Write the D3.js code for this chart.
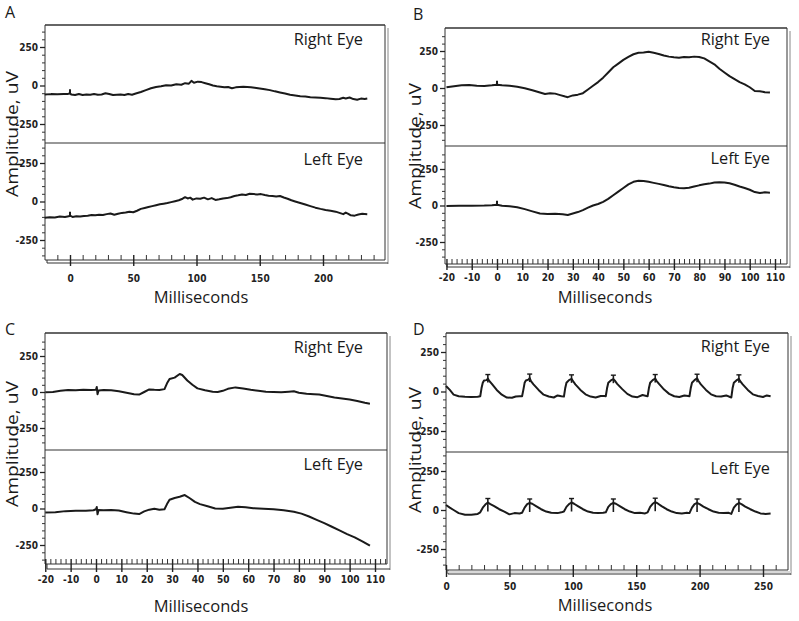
<!DOCTYPE html>
<html><head><meta charset="utf-8">
<script src="https://cdn.jsdelivr.net/npm/d3@7"></script>
<style>body{margin:0;background:#fff}svg{display:block}</style></head>
<body><svg id="c" width="799" height="621"></svg>
<script>
// ---------- DATA (time ms, amplitude uV) ----------
const aRight = [[-20,-58],[-15,-56],[-10,-57],[-5,-55],[-2,-56],[0,-50],[1,-58],[4,-62],[7,-55],[10,-62],[13,-58],[16,-60],[19,-55],[22,-60],[25,-58],[28,-50],[31,-55],[34,-62],[37,-60],[40,-58],[43,-62],[46,-55],[49,-60],[52,-52],[56,-42],[60,-30],[64,-18],[68,-10],[72,-5],[76,2],[80,0],[84,8],[88,5],[91,15],[94,12],[96,30],[98,18],[101,25],[104,22],[107,15],[110,8],[113,0],[116,-5],[119,-8],[122,-12],[125,-10],[128,-18],[131,-12],[134,-10],[137,-8],[140,-10],[143,-12],[146,-15],[150,-20],[154,-25],[158,-30],[162,-38],[166,-45],[170,-52],[174,-60],[178,-65],[182,-70],[186,-72],[190,-76],[194,-78],[198,-80],[202,-82],[206,-86],[210,-90],[213,-88],[216,-80],[218,-84],[221,-78],[224,-88],[227,-92],[230,-85],[233,-88],[235,-85]];
const aLeft = [[-20,-105],[-16,-102],[-12,-104],[-8,-98],[-4,-100],[-1,-96],[0,-92],[2,-100],[5,-96],[8,-98],[11,-94],[14,-92],[17,-88],[20,-90],[23,-86],[26,-88],[29,-82],[32,-78],[35,-86],[38,-80],[41,-74],[44,-72],[47,-66],[50,-70],[53,-60],[56,-48],[59,-42],[62,-36],[65,-30],[68,-24],[71,-18],[74,-14],[77,-10],[80,-4],[83,2],[86,8],[89,18],[91,28],[93,20],[95,25],[97,12],[100,20],[103,18],[106,25],[109,14],[112,22],[115,10],[118,14],[121,20],[124,22],[127,28],[130,36],[133,40],[136,46],[139,42],[142,50],[145,48],[148,46],[151,48],[154,42],[157,38],[160,36],[163,32],[166,36],[169,26],[172,18],[175,8],[178,0],[182,-10],[186,-20],[190,-30],[194,-40],[198,-48],[202,-55],[206,-60],[210,-66],[213,-74],[216,-82],[218,-72],[220,-80],[222,-90],[225,-92],[228,-84],[231,-80],[235,-82]];
const bRight = [[-20,5],[-17,12],[-14,18],[-11,20],[-8,16],[-5,14],[-2,18],[0,22],[2,18],[5,15],[8,8],[11,-2],[14,-15],[17,-30],[19,-40],[21,-35],[23,-38],[25,-48],[27,-58],[28,-62],[30,-50],[32,-45],[34,-35],[36,-10],[38,15],[40,40],[42,70],[44,105],[46,140],[48,165],[50,190],[52,210],[54,228],[56,238],[58,240],[60,245],[62,238],[64,230],[66,220],[68,212],[70,208],[72,205],[74,210],[76,208],[78,212],[80,210],[82,200],[84,180],[86,160],[88,130],[90,105],[92,80],[94,60],[96,40],[98,25],[100,5],[102,-20],[104,-22],[106,-28],[108,-30]];
const bLeft = [[-20,-3],[-15,-2],[-10,-1],[-5,0],[-2,2],[0,5],[2,-2],[5,-5],[8,-12],[11,-25],[14,-40],[17,-55],[20,-58],[23,-56],[26,-60],[28,-65],[30,-55],[32,-45],[34,-32],[36,-15],[38,0],[40,10],[42,25],[44,45],[46,70],[48,95],[50,120],[52,145],[54,162],[56,170],[58,168],[60,162],[62,155],[64,148],[66,140],[68,132],[70,125],[72,120],[74,118],[76,122],[78,130],[80,138],[82,145],[84,150],[86,158],[88,160],[90,158],[92,152],[94,142],[96,130],[98,120],[100,108],[102,92],[104,85],[106,90],[108,88]];
const cRight = [[-20,-2],[-17,0],[-14,8],[-11,14],[-8,12],[-5,15],[-2,14],[0,15],[0.3,35],[0.6,-15],[1,10],[3,14],[6,12],[9,5],[12,-5],[15,-15],[17,-18],[19,0],[21,18],[23,15],[25,14],[27,20],[28,60],[29,90],[31,100],[33,125],[34,118],[36,80],[38,50],[40,25],[43,12],[46,2],[48,0],[50,8],[52,22],[55,32],[58,25],[61,15],[64,8],[67,2],[70,0],[73,-2],[76,2],[78,5],[80,-5],[83,-12],[86,-15],[88,-18],[91,-28],[94,-38],[97,-45],[100,-52],[103,-62],[106,-75],[108,-82]];
const cLeft = [[-20,-28],[-16,-25],[-12,-18],[-8,-15],[-4,-16],[-1,-12],[0,-5],[0.3,10],[0.6,-40],[1,-10],[3,-12],[6,-10],[9,-14],[12,-25],[15,-35],[17,-38],[19,-20],[21,-8],[23,-2],[25,-8],[27,-5],[28,30],[29,60],[31,72],[33,80],[35,92],[37,70],[39,45],[41,30],[44,15],[47,0],[50,-2],[53,5],[56,12],[59,8],[62,2],[66,-2],[70,-5],[74,-12],[78,-22],[81,-35],[84,-55],[87,-78],[90,-100],[93,-125],[96,-150],[99,-175],[102,-198],[105,-225],[108,-255]];
const dRight = [[0,35],[3,10],[6,-20],[10,-30],[15,-33],[20,-35],[25,-33],[27,-30],[28,20],[29,55],[30,70],[32,72],[33,82],[34,68],[36,50],[40,10],[44,-20],[48,-38],[52,-40],[55,-32],[58,-30],[60,-30],[61,10],[62,55],[63,70],[65,75],[66,85],[67,65],[69,45],[73,10],[77,-20],[81,-32],[85,-38],[88,-25],[91,-30],[93,-32],[94,20],[95,55],[97,72],[99,80],[100,68],[102,45],[106,10],[110,-18],[114,-32],[118,-38],[122,-28],[125,-28],[126,-30],[127,20],[128,55],[130,70],[132,78],[133,70],[135,48],[139,15],[143,-15],[147,-32],[151,-36],[155,-22],[158,-28],[159,-30],[160,20],[161,55],[163,72],[165,82],[166,68],[168,48],[172,12],[176,-15],[180,-30],[184,-35],[188,-25],[191,-28],[192,-30],[193,20],[194,55],[196,72],[198,84],[199,68],[201,45],[205,10],[209,-18],[213,-30],[217,-32],[221,-25],[224,-35],[225,-38],[226,20],[227,55],[229,70],[231,80],[232,65],[234,45],[238,10],[242,-18],[246,-28],[250,-35],[253,-25],[256,-30]];
const dLeft = [[0,32],[3,15],[6,0],[10,-20],[15,-30],[20,-30],[25,-25],[27,-15],[29,15],[31,35],[33,48],[35,38],[38,25],[42,5],[46,-10],[50,-28],[54,-20],[58,-22],[60,-18],[62,15],[64,38],[66,45],[68,40],[71,25],[75,5],[79,-10],[83,-18],[88,-20],[91,-15],[93,-10],[95,20],[97,38],[99,48],[101,40],[104,25],[108,5],[112,-10],[116,-18],[120,-20],[124,-18],[126,-15],[128,20],[130,38],[132,45],[134,40],[137,25],[141,5],[145,-10],[149,-20],[153,-18],[157,-22],[159,-15],[161,20],[163,40],[165,50],[167,42],[170,25],[174,5],[178,-10],[182,-20],[186,-22],[190,-18],[192,-20],[194,15],[196,38],[198,45],[200,38],[203,22],[207,5],[211,-10],[215,-18],[219,-20],[223,-18],[225,-25],[227,15],[229,35],[231,45],[233,38],[236,22],[240,5],[244,-10],[248,-22],[252,-25],[256,-22]];
const stimA = [0];
const stimB = [0];
const stimC = [];
const stimD = [33, 66, 99, 132, 165, 198, 231];
const yMajorTicks = [-250, 0, 250];
const xTicksWide = [0, 50, 100, 150, 200, 250];
const xTicksNarrow = [-20, -10, 0, 10, 20, 30, 40, 50, 60, 70, 80, 90, 100, 110];
const eyeLabels = ["Right Eye", "Left Eye"];

// ---------- LAYOUT ----------
const panels = [
 {letter:"A", lx:5, ly:18, right:aRight, left:aLeft, stim:stimA, mark:"spike",
  L:45, T:25, R:385, div:143, up:[47,124], lo:[163,240],
  xDom:[0,200], xRange:[70,323], ax1:260, ax2:263,
  minorStep:10, minorFrom:-10, minorTo:240, majors:xTicksWide.filter(v=>v<=200),
  labelY:282, eyeX:363, eyeY:[45,165], ampX:18, ampY:134, msX:201, msY:303, outer:388},
 {letter:"B", lx:413, ly:20, right:bRight, left:bLeft, stim:stimB, mark:"spike",
  L:445, T:28, R:787, div:146, up:[51,125], lo:[169,242],
  xDom:[0,110], xRange:[497,775], ax1:264, ax2:267,
  minorStep:2, minorFrom:-18, minorTo:112, majors:xTicksNarrow,
  labelY:281, eyeX:770, eyeY:[45,164], ampX:421, ampY:146, msX:605, msY:303, outer:790},
 {letter:"C", lx:5, ly:335, right:cRight, left:cLeft, stim:stimC, mark:"spike",
  L:45, T:333, R:387, div:450, up:[356,428], lo:[472,545],
  xDom:[0,110], xRange:[96,375], ax1:564, ax2:569,
  minorStep:2, minorFrom:-18, minorTo:114, majors:xTicksNarrow,
  labelY:583, eyeX:363, eyeY:[353,470], ampX:18, ampY:444, msX:201, msY:612, outer:390},
 {letter:"D", lx:413, ly:335, right:dRight, left:dLeft, stim:stimD, mark:"tee",
  L:446, T:333, R:788, div:452, up:[352,431], lo:[471,549],
  xDom:[0,250], xRange:[446,763], ax1:570, ax2:574,
  minorStep:10, minorFrom:10, minorTo:260, majors:xTicksWide,
  labelY:590, eyeX:770, eyeY:[352,474], ampX:421, ampY:450, msX:605, msY:611, outer:791}
];

const svg = d3.select("#c");
const SANS = "'Open Sans', 'Noto Sans', sans-serif";
const NARROW = "'Liberation Sans Narrow', 'DejaVu Sans Condensed', 'Liberation Sans', sans-serif";
const ink = "#1a1a1a";

function valueAt(data, t) {
  const i = d3.bisector(d => d[0]).left(data, t);
  if (i <= 0) return data[0][1];
  if (i >= data.length) return data[data.length-1][1];
  const a = data[i-1], b = data[i];
  return a[1] + (b[1]-a[1]) * (t - a[0]) / (b[0] - a[0]);
}

panels.forEach(p => {
  const g = svg.append("g");
  const x = d3.scaleLinear().domain(p.xDom).range(p.xRange);
  const yU = d3.scaleLinear().domain([-250,250]).range([p.up[1], p.up[0]]);
  const yLo = d3.scaleLinear().domain([-250,250]).range([p.lo[1], p.lo[0]]);

  // frame
  const fr = g.append("g").attr("stroke", "#333").attr("fill","none");
  fr.append("line").attr("x1",p.L).attr("x2",p.R).attr("y1",p.T).attr("y2",p.T).attr("stroke-width",1.3);
  fr.append("line").attr("x1",p.L).attr("x2",p.L).attr("y1",p.T).attr("y2",p.ax1).attr("stroke-width",1);
  fr.append("line").attr("x1",p.R).attr("x2",p.R).attr("y1",p.T).attr("y2",p.ax1).attr("stroke-width",1);
  fr.append("line").attr("x1",p.outer).attr("x2",p.outer).attr("y1",p.T+3).attr("y2",p.ax2+1).attr("stroke","#888").attr("stroke-width",1);
  fr.append("line").attr("x1",p.L).attr("x2",p.R).attr("y1",p.div).attr("y2",p.div).attr("stroke-width",1.2);
  fr.append("line").attr("x1",p.L).attr("x2",p.R).attr("y1",p.ax1).attr("y2",p.ax1).attr("stroke-width",1.2);
  fr.append("line").attr("x1",p.L+2).attr("x2",p.outer).attr("y1",p.ax2).attr("y2",p.ax2).attr("stroke-width",1.2);
  fr.append("line").attr("x1",p.L+2).attr("x2",p.L+2).attr("y1",p.ax1).attr("y2",p.ax2).attr("stroke-width",1);
  if (p.mark === "tee") {
    fr.append("rect").attr("x", p.L+2).attr("y", p.ax1+1).attr("width", p.outer-p.L-2).attr("height", p.ax2-p.ax1-2)
      .attr("fill", "#d8d8d8").attr("stroke", "none");
  }

  // x minor ticks (upward)
  const minors = d3.range(p.minorFrom, p.minorTo + 0.001, p.minorStep).filter(v => !p.majors.includes(v));
  g.append("g").attr("transform",`translate(0,${p.ax1})`)
    .call(d3.axisBottom(x).tickValues(minors).tickSize(-5).tickFormat(""))
    .call(s => s.select(".domain").remove())
    .attr("color", "#333");
  // x major ticks with labels
  const tsz = p.ax2 + 3 - (p.ax1 - 5);
  g.append("g").attr("transform",`translate(0,${p.ax1-5})`)
    .call(d3.axisBottom(x).tickValues(p.majors).tickSize(tsz).tickPadding(p.labelY - (p.ax1 - 5) - tsz - 7.2).tickFormat(d => String(d)))
    .call(s => s.select(".domain").remove())
    .attr("color", "#222")
    .call(s => s.selectAll("line").attr("stroke-width", 1.4))
    .call(s => s.selectAll("text").attr("font-family", NARROW).attr("font-size", 10).attr("font-weight","bold").attr("fill","#222"));

  // y axes for both sub-panels
  [[yU, p.T, p.div], [yLo, p.div, p.ax1]].forEach(([ys, top, bot]) => {
    const minorY = d3.range(-400, 401, 50).filter(v => !yMajorTicks.includes(v) && ys(v) > top + 2 && ys(v) < bot - 2);
    g.append("g").attr("transform",`translate(${p.L},0)`)
      .call(d3.axisLeft(ys).tickValues(minorY).tickSize(3).tickFormat(""))
      .call(s => s.select(".domain").remove())
      .attr("color", "#333");
    g.append("g").attr("transform",`translate(${p.L},0)`)
      .call(d3.axisLeft(ys).tickValues(yMajorTicks).tickSize(5).tickPadding(2).tickFormat(d => String(d)))
      .call(s => s.select(".domain").remove())
      .attr("color", "#222")
      .call(s => s.selectAll("line").attr("stroke-width", 1.3))
      .call(s => s.selectAll("text").attr("font-family", NARROW).attr("font-size", 10).attr("font-weight","bold").attr("fill","#222"));
  });

  // traces
  const traces = [[p.right, yU, 0], [p.left, yLo, 1]];
  traces.forEach(([data, ys, k]) => {
    const line = d3.line().x(d => x(d[0])).y(d => ys(d[1]));
    g.append("path").datum(data).attr("d", line)
      .attr("fill","none").attr("stroke", ink).attr("stroke-width", 2).attr("stroke-linejoin","round");
    // stimulus markers
    p.stim.forEach(t => {
      const px = x(t), py = ys(valueAt(data, t));
      if (p.mark === "spike") {
        g.append("line").attr("x1",px).attr("x2",px).attr("y1",py-4).attr("y2",py+1)
          .attr("stroke", ink).attr("stroke-width",2);
      } else {
        const y1 = py - 4, y2 = k === 0 ? py + 4 : py + 9;
        g.append("line").attr("x1",px).attr("x2",px).attr("y1",y1).attr("y2",y2)
          .attr("stroke", ink).attr("stroke-width",1.6);
        g.append("line").attr("x1",px-2.5).attr("x2",px+2.5).attr("y1",y1).attr("y2",y1)
          .attr("stroke", ink).attr("stroke-width",1.4);
      }
    });
  });

  // texts
  g.append("text").attr("x", p.lx).attr("y", p.ly).text(p.letter)
    .attr("font-family", SANS).attr("font-size", 16).attr("fill", ink);
  eyeLabels.forEach((t, i) => {
    g.append("text").attr("x", p.eyeX).attr("y", p.eyeY[i]).attr("text-anchor","end").text(t)
      .attr("font-family", SANS).attr("font-size", 16.3).attr("fill", ink);
  });
  g.append("text").attr("transform", `translate(${p.ampX},${p.ampY}) rotate(-90)`)
    .attr("text-anchor","middle").text("Amplitude, uV")
    .attr("textLength", 126).attr("lengthAdjust", "spacingAndGlyphs")
    .attr("font-family", SANS).attr("font-size", 16).attr("fill", ink);
  g.append("text").attr("x", p.msX).attr("y", p.msY).attr("text-anchor","middle").text("Milliseconds")
    .attr("font-family", SANS).attr("font-size", 16.5).attr("fill", ink);
});
</script>
</body></html>
